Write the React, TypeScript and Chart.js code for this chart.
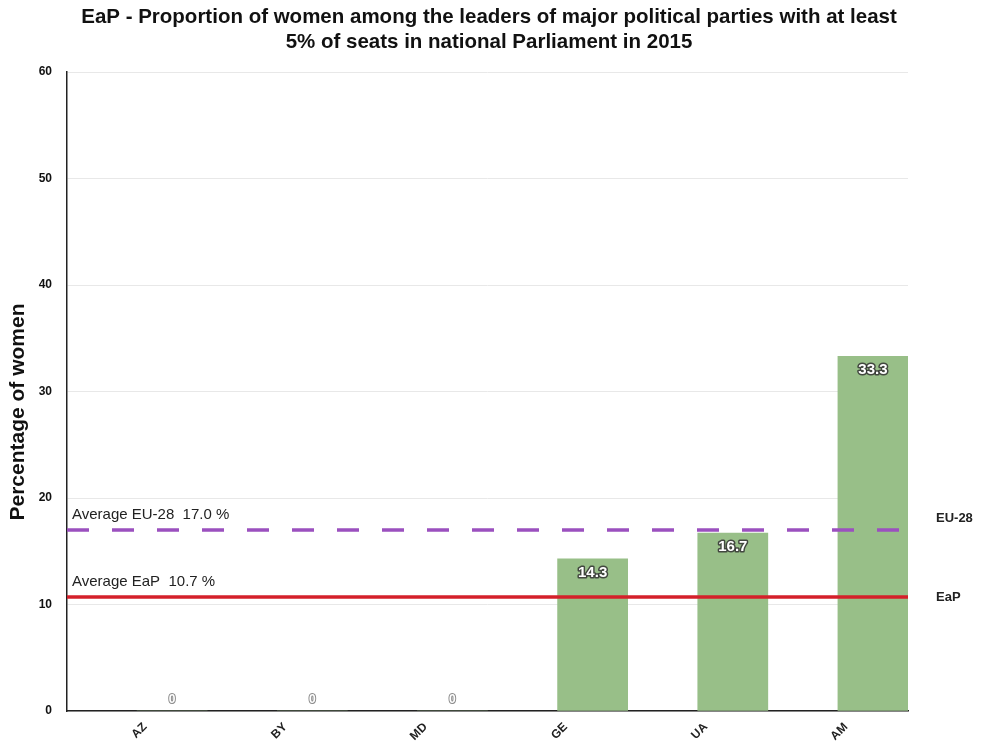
import React, { useEffect, useRef } from "react";
import { Chart, registerables } from "chart.js";

Chart.register(...registerables);

const titleLines = [
  "EaP - Proportion of women among the leaders of major political parties with at least",
  "5% of seats in national Parliament in 2015",
];
const categories = ["AZ", "BY", "MD", "GE", "UA", "AM"];
const womenShare = [0, 0, 0, 14.3, 16.7, 33.3];
const avgEU28 = 17.0;
const avgEaP = 10.7;
const yMin = 0;
const yMax = 60;
const yStep = 10;
const yAxisTitle = "Percentage of women";

const FONT = "'Liberation Sans', Arial, sans-serif";

const textPlugin = {
  id: "texts",
  afterDraw(chart: any) {
    const { ctx } = chart;
    ctx.save();
    ctx.fillStyle = "#111";
    ctx.textAlign = "center";
    ctx.textBaseline = "middle";
    ctx.font = `bold 20.5px ${FONT}`;
    ctx.fillText(titleLines[0], 489, 17);
    ctx.fillText(titleLines[1], 489, 42);
    ctx.translate(18, 412);
    ctx.rotate(-Math.PI / 2);
    ctx.font = `bold 21px ${FONT}`;
    ctx.fillText(yAxisTitle, 0, 0);
    ctx.restore();
  },
};

const refLinesPlugin = {
  id: "refLines",
  afterDatasetsDraw(chart: any) {
    const { ctx, chartArea, scales } = chart;
    const y = scales.y;
    const lines = [
      { value: avgEU28, color: "#9b50bf", dash: [22, 23], text: `Average EU-28  ${avgEU28.toFixed(1)} %`, side: "EU-28", sideDy: -12 },
      { value: avgEaP, color: "#d4202a", dash: [], text: `Average EaP  ${avgEaP.toFixed(1)} %`, side: "EaP", sideDy: 0 },
    ];
    ctx.save();
    for (const l of lines) {
      const py = y.getPixelForValue(l.value);
      ctx.beginPath();
      ctx.setLineDash(l.dash);
      ctx.lineWidth = 3.5;
      ctx.strokeStyle = l.color;
      ctx.moveTo(chartArea.left, py);
      ctx.lineTo(chartArea.right, py);
      ctx.stroke();
      ctx.setLineDash([]);
      ctx.fillStyle = "#222";
      ctx.font = `15px ${FONT}`;
      ctx.textAlign = "left";
      ctx.textBaseline = "bottom";
      ctx.fillText(l.text, chartArea.left + 5, py - 8);
      ctx.font = `bold 13px ${FONT}`;
      ctx.textAlign = "left";
      ctx.textBaseline = "middle";
      ctx.fillText(l.side, chartArea.right + 28, py + l.sideDy);
    }
    ctx.restore();
  },
};

const barLabelPlugin = {
  id: "barLabels",
  afterDraw(chart: any) {
    const { ctx } = chart;
    const meta = chart.getDatasetMeta(1);
    const data = chart.data.datasets[1].data as number[];
    ctx.save();
    ctx.textAlign = "center";
    ctx.textBaseline = "middle";
    meta.data.forEach((el: any, i: number) => {
      const v = data[i];
      const txt = v === 0 ? "0" : v.toFixed(1);
      const ty = v === 0 ? el.y - 11 : el.y + 14;
      ctx.font = v === 0 ? `bold 12px ${FONT}` : `bold 15px ${FONT}`;
      ctx.lineJoin = "round";
      ctx.lineWidth = v === 0 ? 2 : 3;
      ctx.strokeStyle = v === 0 ? "rgba(90,90,90,0.7)" : "rgba(50,50,50,0.85)";
      ctx.strokeText(txt, el.x, ty);
      ctx.fillStyle = "#ffffff";
      ctx.fillText(txt, el.x, ty);
    });
    ctx.restore();
  },
};

export default function App() {
  const canvasRef = useRef<HTMLCanvasElement | null>(null);

  useEffect(() => {
    if (!canvasRef.current) return;
    Chart.defaults.font.family = FONT;
    const chart = new Chart(canvasRef.current, {
      type: "bar",
      data: {
        labels: categories,
        datasets: [
          {
            label: "spacer",
            data: categories.map(() => null) as any,
            backgroundColor: "rgba(0,0,0,0)",
            categoryPercentage: 1,
            barPercentage: 1,
          },
          {
            label: "Women",
            data: womenShare,
            backgroundColor: "#98bf88",
            categoryPercentage: 1,
            barPercentage: 1,
          },
        ],
      },
      options: {
        animation: false,
        responsive: false,
        maintainAspectRatio: false,
        layout: { padding: { left: 0, right: 75, top: 72, bottom: 0 } },
        plugins: {
          legend: { display: false },
          tooltip: { enabled: false },
          title: { display: false },
        },
        scales: {
          x: {
            grid: { display: false },
            border: { display: true, color: "#222", width: 1.5 },
            ticks: {
              color: "#222",
              font: { size: 12, weight: "bold" },
              minRotation: 45,
              maxRotation: 45,
              padding: 1,
              labelOffset: 8,
            },
            afterFit(scale: any) {
              scale.height = 33;
            },
          },
          y: {
            min: yMin,
            max: yMax,
            grid: { color: "#e8e8e8", drawTicks: false },
            border: { display: true, color: "#222", width: 1.5 },
            ticks: {
              stepSize: yStep,
              color: "#111",
              font: { size: 12, weight: "bold" },
              padding: 15,
            },
            afterFit(scale: any) {
              scale.width = 67;
            },
          },
        },
      },
      plugins: [refLinesPlugin, barLabelPlugin, textPlugin],
    });
    return () => chart.destroy();
  }, []);

  return (
    <div style={{ position: "fixed", left: 0, top: 0, width: 983, height: 744, background: "#fff" }}>
      <canvas ref={canvasRef} width={983} height={744} style={{ width: 983, height: 744 }} />
    </div>
  );
}
